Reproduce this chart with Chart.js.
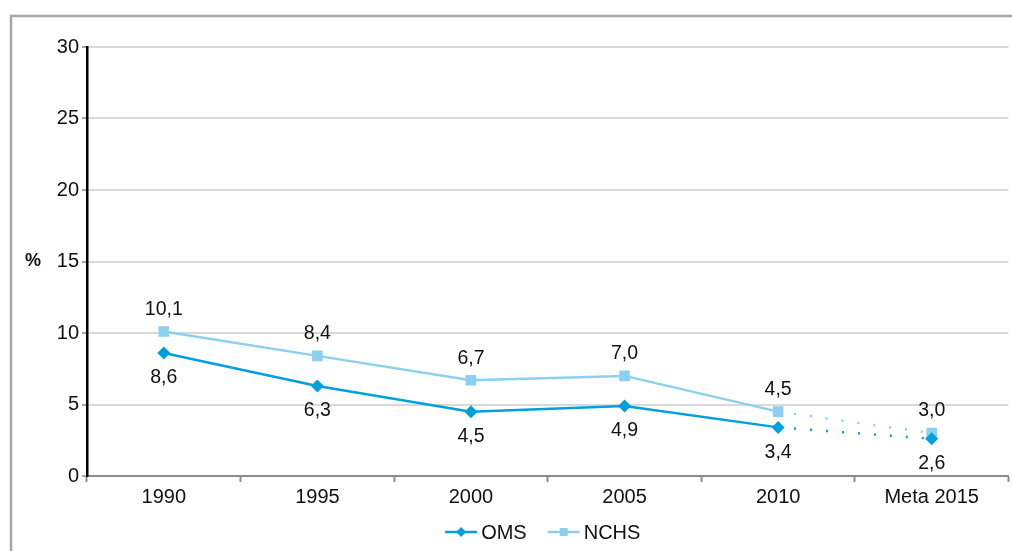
<!DOCTYPE html>
<html><head><meta charset="utf-8">
<script src="https://cdn.jsdelivr.net/npm/chart.js@4/dist/chart.umd.min.js"></script>
<style>html,body{margin:0;padding:0;background:#fff;overflow:hidden}#wrap{width:1012px;height:551px;position:relative;overflow:hidden}canvas{display:block}</style>
</head><body><div id="wrap"><canvas id="c" width="1016" height="551"></canvas></div>
<script>
const categories = ['1990','1995','2000','2005','2010','Meta 2015'];
const omsValues = [8.6, 6.3, 4.5, 4.9, 3.4, 2.6];
const nchsValues = [10.1, 8.4, 6.7, 7.0, 4.5, 3.0];
const seriesNames = ['OMS','NCHS'];
const yTicks = [0,5,10,15,20,25,30];
const yTitle = '%';

const OMS_COLOR = '#00A0DE';
const NCHS_COLOR = '#8BD0F0';
const FONT = 'Liberation Sans, Arial, sans-serif';

const fmt = v => v.toFixed(1).replace('.', ',');

const extras = {
  id: 'extras',
  beforeDraw(chart) {
    const ctx = chart.ctx;
    ctx.save();
    ctx.strokeStyle = '#A6A6A6';
    ctx.lineWidth = 2.5;
    ctx.strokeRect(11, 16, 1200, 700);
    ctx.restore();
  },
  afterDatasetsDraw(chart) {
    const ctx = chart.ctx;
    ctx.save();
    ctx.font = '19.5px ' + FONT;
    ctx.fillStyle = '#111';
    ctx.textAlign = 'center';
    ctx.textBaseline = 'middle';
    chart.data.datasets.forEach((ds, i) => {
      const meta = chart.getDatasetMeta(i);
      meta.data.forEach((pt, j) => {
        const off = i === 1 ? -22 : 25;
        ctx.fillText(fmt(ds.data[j]), pt.x, pt.y + off);
      });
    });
    // y title
    const ys = chart.scales.y;
    ctx.font = 'bold 18px ' + FONT;
    ctx.fillText(yTitle, 33, ys.getPixelForValue(15));
    // legend
    ctx.font = '20px ' + FONT;
    ctx.textAlign = 'left';
    const items = chart.data.datasets.map(ds => ({ds, tw: ctx.measureText(ds.label).width}));
    const lineW = 32, gap1 = 4, gap2 = 21;
    let total = 0;
    items.forEach((it, k) => { total += lineW + gap1 + it.tw + (k < items.length - 1 ? gap2 : 0); });
    const ca = chart.chartArea;
    let x = (ca.left + ca.right) / 2 - 5 - total / 2;
    const y = 532;
    items.forEach((it) => {
      const ds = it.ds;
      ctx.strokeStyle = ds.borderColor;
      ctx.lineWidth = 2.5;
      ctx.beginPath(); ctx.moveTo(x, y); ctx.lineTo(x + lineW, y); ctx.stroke();
      ctx.fillStyle = ds.pointBackgroundColor;
      ctx.beginPath();
      const cx = x + lineW / 2;
      if (ds.pointStyle === 'rectRot') {
        const r = 5;
        ctx.moveTo(cx, y - r); ctx.lineTo(cx + r, y); ctx.lineTo(cx, y + r); ctx.lineTo(cx - r, y); ctx.closePath();
      } else {
        const s = 4;
        ctx.rect(cx - s, y - s, 2*s, 2*s);
      }
      ctx.fill();
      ctx.fillStyle = '#111';
      ctx.fillText(ds.label, x + lineW + gap1, y + 1);
      x += lineW + gap1 + it.tw + gap2;
    });
    ctx.restore();
  }
};

const dotted = ctx => ctx.p1DataIndex === 5 ? [2, 14] : undefined;

new Chart(document.getElementById('c'), {
  type: 'line',
  data: {
    labels: categories,
    datasets: [
      { label: seriesNames[0], data: omsValues, borderColor: OMS_COLOR, backgroundColor: OMS_COLOR,
        pointBackgroundColor: OMS_COLOR, pointBorderColor: OMS_COLOR, pointBorderWidth: 0,
        pointStyle: 'rectRot', pointRadius: 6.5, borderWidth: 2.5, tension: 0,
        segment: { borderDash: dotted }, order: 1 },
      { label: seriesNames[1], data: nchsValues, borderColor: NCHS_COLOR, backgroundColor: NCHS_COLOR,
        pointBackgroundColor: NCHS_COLOR, pointBorderColor: NCHS_COLOR, pointBorderWidth: 0,
        pointStyle: 'rect', pointRadius: 7.5, borderWidth: 2.5, tension: 0,
        segment: { borderDash: dotted }, order: 2 }
    ]
  },
  options: {
    responsive: false,
    animation: false,
    devicePixelRatio: 1,
    layout: { padding: { top: 47, right: 0, bottom: 45, left: 0 } },
    plugins: { legend: { display: false }, tooltip: { enabled: false } },
    scales: {
      x: {
        offset: true,
        afterFit: s => { s.height = 30; s.paddingRight = 0; s.paddingLeft = 0; },
        grid: { offset: true, drawOnChartArea: false, drawTicks: true, tickLength: 6, tickColor: '#8C8C8C', tickWidth: 2 },
        border: { color: '#8C8C8C', width: 2 },
        ticks: { color: '#111', font: { family: FONT, size: 20 }, padding: 3, maxRotation: 0, autoSkip: false }
      },
      y: {
        min: 0, max: 30,
        afterFit: s => { s.width = 87; },
        afterBuildTicks: s => { s.ticks = yTicks.map(v => ({value: v})); },
        grid: { color: '#D9D9D9', lineWidth: 2, tickLength: 5, tickColor: '#A6A6A6', tickWidth: 2 },
        border: { color: '#000', width: 2.5 },
        ticks: { color: '#111', font: { family: FONT, size: 20 }, padding: 3 }
      }
    }
  },
  plugins: [extras]
});
</script></body></html>
